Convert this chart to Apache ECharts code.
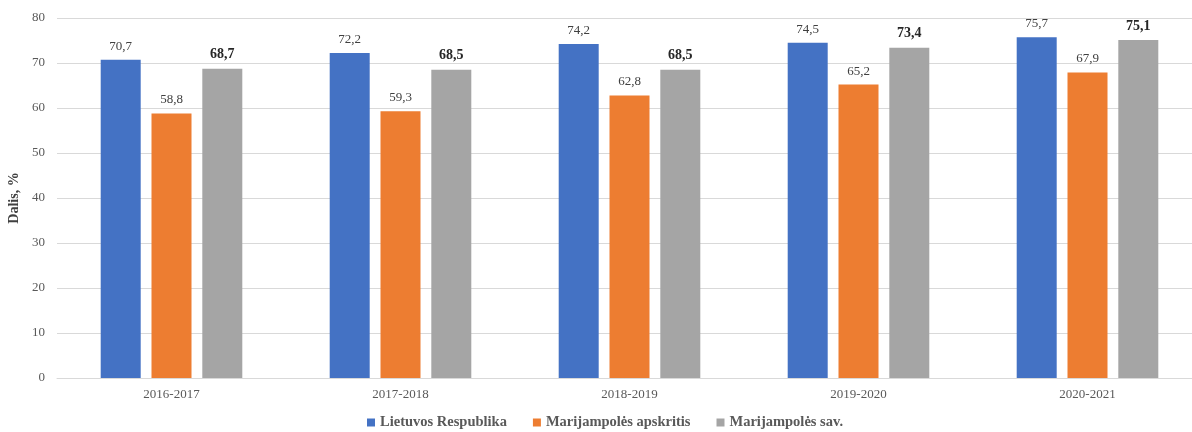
<!DOCTYPE html>
<html>
<head>
<meta charset="utf-8">
<script src="https://cdn.jsdelivr.net/npm/echarts@6/dist/echarts.min.js"></script>
<style>
  html, body { margin: 0; padding: 0; background: #fff; }
  #chart { width: 1192px; height: 432px; }
</style>
</head>
<body>
<div id="chart"></div>
<script>
  // duomenys
  var categories = ['2016-2017', '2017-2018', '2018-2019', '2019-2020', '2020-2021'];
  var lietuva = [70.7, 72.2, 74.2, 74.5, 75.7];
  var apskritis = [58.8, 59.3, 62.8, 65.2, 67.9];
  var savivaldybe = [68.7, 68.5, 68.5, 73.4, 75.1];
  var seriesNames = ['Lietuvos Respublika', 'Marijampolės apskritis', 'Marijampolės sav.'];

  var serif = '"Liberation Serif", "Times New Roman", serif';
  var fmt = function (p) { return String(p.value).replace('.', ','); };

  var chart = echarts.init(document.getElementById('chart'));
  var option = {
    animation: false,
    textStyle: { fontFamily: serif },
    grid: { left: 57, top: 18, width: 1145, height: 360, containLabel: false, outerBoundsMode: 'none' },
    legend: {
      top: 410,
      left: 362,
      itemWidth: 8,
      itemHeight: 8,
      itemGap: 26,
      icon: 'rect',
      textStyle: { fontFamily: serif, fontSize: 14.5, fontWeight: 'bold', color: '#595959' },
      data: seriesNames
    },
    xAxis: {
      type: 'category',
      data: categories,
      axisLine: { lineStyle: { color: '#d9d9d9', width: 1 } },
      axisTick: { show: false },
      axisLabel: { color: '#595959', fontSize: 13, margin: 10, fontFamily: serif }
    },
    yAxis: {
      type: 'value',
      min: 0,
      max: 80,
      interval: 10,
      name: 'Dalis, %',
      nameLocation: 'middle',
      nameGap: 32,
      nameTextStyle: { fontFamily: serif, fontSize: 14, fontWeight: 'bold', color: '#404040' },
      axisLine: { show: false },
      axisTick: { show: false },
      axisLabel: { color: '#595959', fontSize: 13, margin: 12, fontFamily: serif },
      splitLine: { lineStyle: { color: '#d9d9d9', width: 1 } }
    },
    series: [
      {
        name: seriesNames[0],
        type: 'bar',
        data: lietuva,
        barWidth: 40,
        barGap: '27%',
        itemStyle: { color: '#4472C4' },
        label: { show: true, position: 'top', distance: 7, formatter: fmt, fontSize: 13, color: '#404040', fontFamily: serif }
      },
      {
        name: seriesNames[1],
        type: 'bar',
        data: apskritis,
        barWidth: 40,
        barGap: '27%',
        itemStyle: { color: '#ED7D31' },
        label: { show: true, position: 'top', distance: 7, formatter: fmt, fontSize: 13, color: '#404040', fontFamily: serif }
      },
      {
        name: seriesNames[2],
        type: 'bar',
        data: savivaldybe,
        barWidth: 40,
        barGap: '27%',
        itemStyle: { color: '#A5A5A5' },
        label: { show: true, position: 'top', distance: 7, formatter: fmt, fontSize: 14, fontWeight: 'bold', color: '#262626', fontFamily: serif }
      }
    ]
  };
  chart.setOption(option);
  window.addEventListener('resize', function () { chart.resize(); });
</script>
</body>
</html>
